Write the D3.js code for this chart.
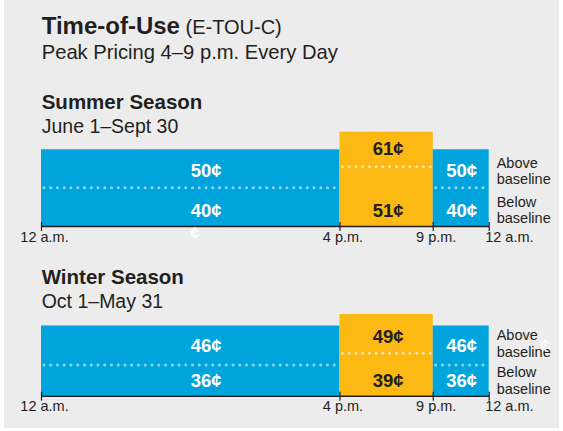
<!DOCTYPE html>
<html>
<head>
<meta charset="utf-8">
<script src="https://cdn.jsdelivr.net/npm/d3@7/dist/d3.min.js"></script>
<style>
  body { margin: 0; background: #fff; }
  svg { display: block; font-family: "Liberation Sans", Arial, Helvetica, sans-serif; }
</style>
</head>
<body>
<script>
// hours of the day where the price changes, and their labels
const tickHours = [0, 16, 21, 24];
const tickLabels = ["12 a.m.", "4 p.m.", "9 p.m.", "12 a.m."];

// the three periods of a day (off-peak, peak, off-peak)
const periodStart = [0, 16, 21];
const periodEnd = [16, 21, 24];
const periodPeak = [false, true, false];

// seasons and their prices in cents
const seasons = ["Summer Season", "Winter Season"];
const seasonDates = ["June 1–Sept 30", "Oct 1–May 31"];
const aboveBaseline = [[50, 61, 50], [46, 49, 46]];
const belowBaseline = [[40, 51, 40], [36, 39, 36]];
const tierLabels = [["Above", "baseline"], ["Below", "baseline"]];

// layout for each season block, offsets are from the axis line
const layout = [
  { axis: 226, head: 109, dates: 132.7, offTop: -76.7, peakTop: -94.3, offDot: -38.3, peakDot: -59.3,
    upOff: -56, upPeak: -77.7, low: -16, tier: [-58, -42.5, -19, -3.5], stray: [195, 233] },
  { axis: 395.7, head: 284.3, dates: 308.3, offTop: -70.2, peakTop: -81.7, offDot: -30.7, peakDot: -42.4,
    upOff: -50.7, upPeak: -59, low: -15, tier: [-55.5, -38.8, -18.8, -2.2], stray: [545, 345] }
];

const W = 563, H = 431;
const ink = "#231f20", blue = "#00a4dc", orange = "#fcb813";

const svg = d3.select("body").append("svg").attr("width", W).attr("height", H);

// panel background
svg.append("rect").attr("x", 4).attr("y", 0).attr("width", 555).attr("height", 428).attr("fill", "#ececec");

// title
const title = svg.append("text").attr("x", 41.7).attr("y", 34.3).attr("fill", ink);
title.append("tspan").attr("font-size", 24).attr("font-weight", "bold").text("Time-of-Use");
title.append("tspan").attr("font-size", 20).text(" (E-TOU-C)");
svg.append("text").attr("x", 41.7).attr("y", 59.3).attr("fill", ink).attr("font-size", 20.2)
  .text("Peak Pricing 4–9 p.m. Every Day");

const x = d3.scaleLinear().domain([0, 24]).range([41, 488.7]);

seasons.forEach((name, s) => {
  const L = layout[s];
  const g = svg.append("g").attr("transform", `translate(0,${L.axis})`);

  svg.append("text").attr("x", 41.7).attr("y", L.head).attr("fill", ink)
    .attr("font-size", 20.5).attr("font-weight", "bold").text(name);
  svg.append("text").attr("x", 41.7).attr("y", L.dates).attr("fill", ink)
    .attr("font-size", 19.5).text(seasonDates[s]);

  const periods = periodStart.map((st, i) => ({
    start: st, end: periodEnd[i], peak: periodPeak[i],
    above: aboveBaseline[s][i], below: belowBaseline[s][i]
  }));

  // bars
  g.selectAll("rect.seg").data(periods).enter().append("rect")
    .attr("class", "seg")
    .attr("x", d => x(d.start))
    .attr("width", d => x(d.end) - x(d.start))
    .attr("y", d => d.peak ? L.peakTop : L.offTop)
    .attr("height", d => d.peak ? -L.peakTop : -L.offTop)
    .attr("fill", d => d.peak ? orange : blue);

  // dotted baseline split
  g.selectAll("line.dots").data(periods).enter().append("line")
    .attr("x1", d => x(d.start) + 3)
    .attr("x2", d => x(d.end) - 1)
    .attr("y1", d => d.peak ? L.peakDot : L.offDot)
    .attr("y2", d => d.peak ? L.peakDot : L.offDot)
    .attr("stroke", d => d.peak ? "#fde3a6" : "#8fd4ef")
    .attr("stroke-width", 3.1)
    .attr("stroke-linecap", "round")
    .attr("stroke-dasharray", "0 6.75");

  // price labels
  const lab = (sel, key, yf) => sel.selectAll(null).data(periods).enter().append("text")
    .attr("x", d => (x(d.start) + x(d.end)) / 2 + (d.peak ? 2 : (d.start === 0 ? 16 : 1)))
    .attr("y", yf)
    .attr("dy", "0.36em")
    .attr("text-anchor", "middle")
    .attr("font-size", 18.5)
    .attr("font-weight", "bold")
    .attr("fill", d => d.peak ? ink : "#fff")
    .text(d => d[key] + "¢");
  lab(g, "above", d => d.peak ? L.upPeak : L.upOff);
  lab(g, "below", () => L.low);

  // tier labels on the right
  const tl = tierLabels.flat();
  g.selectAll(null).data(tl).enter().append("text")
    .attr("x", 496.7)
    .attr("y", (d, i) => L.tier[i])
    .attr("font-size", 14.5)
    .attr("fill", ink)
    .text(d => d);

  // axis
  const axis = d3.axisBottom(x).tickValues(tickHours).tickSizeInner(5).tickSizeOuter(0)
    .tickFormat((d, i) => tickLabels[i]);
  const ax = g.append("g").call(axis);
  ax.attr("font-family", null).attr("font-size", null);
  ax.select(".domain").attr("stroke", ink).attr("stroke-width", 1.5);
  ax.selectAll(".tick line").attr("stroke", ink).attr("stroke-width", 1.2).attr("y1", -4);
  ax.selectAll(".tick text")
    .attr("font-size", 14.5).attr("fill", ink)
    .attr("y", 15.7).attr("dy", 0)
    .attr("text-anchor", (d, i) => i === tickLabels.length - 1 ? "start" : "middle")
    .attr("dx", (d, i) => i === tickLabels.length - 1 ? -4 : 3);

  // stray cent sign in the artwork
  svg.append("text").attr("x", L.stray[0]).attr("y", L.stray[1]).attr("dy", "0.36em")
    .attr("text-anchor", "middle").attr("font-size", 17).attr("font-weight", "bold")
    .attr("fill", "#fff").attr("opacity", 0.9).text("¢");
});
</script>
</body>
</html>
